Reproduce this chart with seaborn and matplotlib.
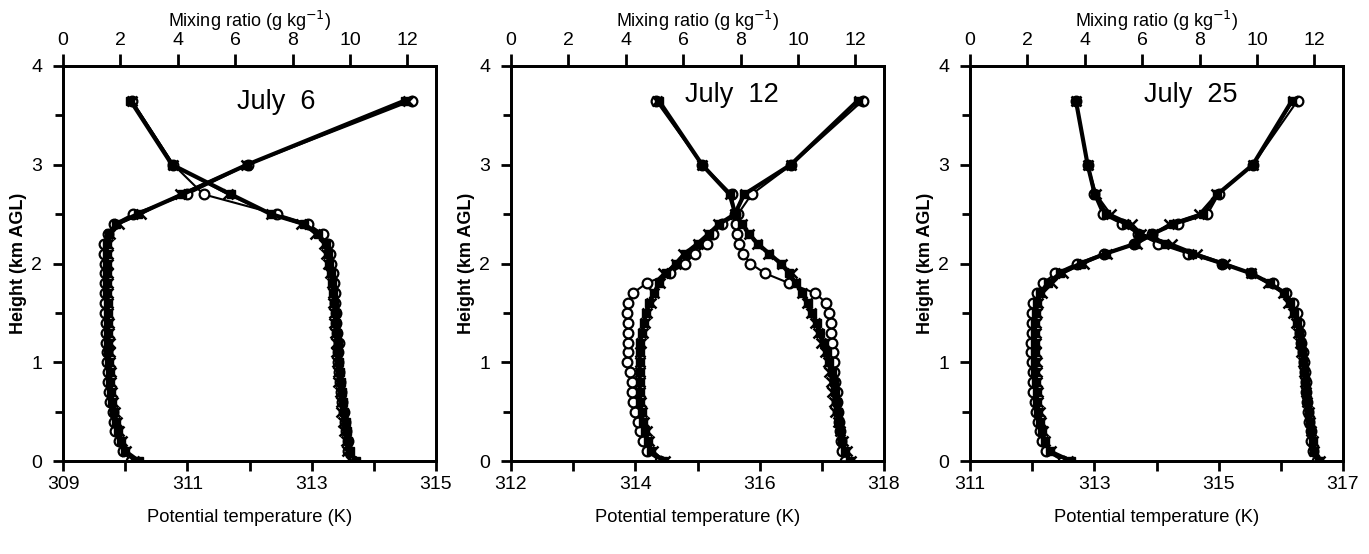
import matplotlib
matplotlib.use("Agg")
import matplotlib.pyplot as plt
import seaborn as sns

# ---------------- data ----------------
Z = [0.0, 0.1, 0.2, 0.3, 0.4, 0.5, 0.6, 0.7, 0.8, 0.9, 1.0, 1.1, 1.2, 1.3, 1.4,
     1.5, 1.6, 1.7, 1.8, 1.9, 2.0, 2.1, 2.2, 2.3, 2.4, 2.5, 2.7, 3.0, 3.65]

# July 6 potential temperature (K)
T6_sq = [310.22, 310.00, 309.93, 309.88, 309.85, 309.82, 309.79, 309.77, 309.76, 309.75,
         309.74, 309.73, 309.73, 309.73, 309.72, 309.72, 309.72, 309.71, 309.71, 309.71,
         309.70, 309.70, 309.70, 309.74, 309.86, 310.20, 310.92, 311.96, 314.50]
T6_x = [310.15, 310.02, 309.95, 309.90, 309.87, 309.84, 309.81, 309.79, 309.78, 309.77,
        309.76, 309.75, 309.75, 309.74, 309.74, 309.73, 309.73, 309.73, 309.73, 309.72,
        309.72, 309.72, 309.72, 309.76, 309.90, 310.26, 310.88, 311.95, 314.55]
T6_o = [310.10, 309.96, 309.90, 309.84, 309.82, 309.80, 309.76, 309.74, 309.73, 309.72,
        309.71, 309.70, 309.69, 309.69, 309.69, 309.68, 309.68, 309.68, 309.68, 309.67,
        309.67, 309.66, 309.66, 309.72, 309.82, 310.12, 311.00, 311.97, 314.62]
# July 6 mixing ratio (g/kg)
Q6_sq = [10.20, 10.00, 9.95, 9.90, 9.85, 9.80, 9.75, 9.72, 9.68, 9.65,
         9.62, 9.60, 9.58, 9.55, 9.53, 9.50, 9.45, 9.42, 9.38, 9.33,
         9.28, 9.22, 9.15, 8.90, 8.40, 7.25, 5.85, 3.80, 2.35]
Q6_x = [10.05, 9.90, 9.85, 9.80, 9.75, 9.70, 9.68, 9.65, 9.60, 9.58,
        9.55, 9.52, 9.50, 9.48, 9.46, 9.44, 9.42, 9.40, 9.38, 9.30,
        9.25, 9.18, 9.10, 8.80, 8.30, 7.25, 5.75, 3.85, 2.40]
Q6_o = [10.10, 9.95, 9.95, 9.87, 9.82, 9.80, 9.72, 9.68, 9.65, 9.62,
        9.60, 9.60, 9.62, 9.56, 9.52, 9.50, 9.48, 9.47, 9.45, 9.40,
        9.35, 9.30, 9.25, 9.05, 8.55, 7.45, 4.90, 3.85, 2.40]

# July 12
T12_sq = [314.45, 314.25, 314.20, 314.15, 314.12, 314.10, 314.08, 314.07, 314.07, 314.07,
          314.07, 314.07, 314.08, 314.10, 314.14, 314.17, 314.22, 314.30, 314.38, 314.50,
          314.65, 314.80, 315.00, 315.18, 315.35, 315.60, 315.75, 316.50, 317.58]
T12_x = [314.48, 314.28, 314.22, 314.18, 314.14, 314.10, 314.09, 314.08, 314.08, 314.07,
         314.07, 314.07, 314.09, 314.12, 314.15, 314.18, 314.26, 314.30, 314.40, 314.45,
         314.66, 314.77, 315.00, 315.17, 315.33, 315.60, 315.76, 316.50, 317.60]
T12_o = [314.40, 314.18, 314.13, 314.08, 314.05, 313.99, 313.96, 313.95, 313.94, 313.91,
         313.86, 313.88, 313.88, 313.88, 313.88, 313.86, 313.88, 313.96, 314.18, 314.56,
         314.80, 314.96, 315.15, 315.25, 315.40, 315.65, 315.87, 316.51, 317.66]
Q12_sq = [11.80, 11.65, 11.55, 11.48, 11.42, 11.38, 11.35, 11.30, 11.25, 11.18,
          11.10, 11.00, 10.90, 10.78, 10.65, 10.50, 10.35, 10.15, 9.92, 9.70,
          9.40, 9.00, 8.60, 8.30, 8.05, 7.82, 7.62, 6.66, 5.15]
Q12_x = [11.85, 11.70, 11.57, 11.45, 11.38, 11.30, 11.25, 11.20, 11.15, 11.10,
         11.04, 10.93, 10.82, 10.70, 10.60, 10.47, 10.30, 10.13, 9.90, 9.78,
         9.43, 8.97, 8.56, 8.28, 8.04, 7.80, 7.62, 6.66, 5.10]
Q12_o = [11.63, 11.55, 11.50, 11.45, 11.42, 11.40, 11.37, 11.36, 11.30, 11.27,
         11.25, 11.22, 11.20, 11.16, 11.16, 11.10, 10.99, 10.60, 9.70, 8.86,
         8.34, 8.10, 7.93, 7.87, 7.85, 7.80, 7.70, 6.66, 5.05]

# July 25
T25_sq = [312.62, 312.28, 312.20, 312.16, 312.13, 312.10, 312.08, 312.07, 312.06, 312.05,
          312.05, 312.04, 312.04, 312.04, 312.05, 312.06, 312.08, 312.13, 312.25, 312.45,
          312.78, 313.18, 313.66, 313.94, 314.27, 314.75, 314.98, 315.55, 316.18]
T25_x = [312.58, 312.30, 312.20, 312.18, 312.15, 312.12, 312.09, 312.09, 312.08, 312.07,
         312.07, 312.06, 312.06, 312.06, 312.06, 312.07, 312.10, 312.16, 312.32, 312.50,
         312.83, 313.20, 313.68, 313.95, 314.20, 314.68, 314.96, 315.55, 316.20]
T25_o = [312.50, 312.23, 312.16, 312.13, 312.10, 312.06, 312.04, 312.02, 312.02, 312.02,
         312.00, 311.98, 311.98, 311.99, 311.99, 311.99, 312.02, 312.08, 312.18, 312.37,
         312.72, 313.15, 313.64, 313.93, 314.34, 314.82, 315.00, 315.55, 316.27]
Q25_sq = [12.15, 12.00, 11.95, 11.90, 11.85, 11.80, 11.76, 11.72, 11.68, 11.65,
          11.62, 11.58, 11.52, 11.47, 11.40, 11.30, 11.15, 10.95, 10.45, 9.80,
          8.80, 7.75, 6.80, 5.90, 5.45, 4.75, 4.35, 4.10, 3.69]
Q25_x = [12.20, 12.00, 11.95, 11.90, 11.85, 11.80, 11.76, 11.72, 11.68, 11.64,
         11.60, 11.55, 11.50, 11.44, 11.36, 11.25, 11.07, 10.90, 10.37, 9.80,
         8.90, 7.90, 7.04, 5.95, 5.65, 4.90, 4.40, 4.10, 3.69]
Q25_o = [12.10, 11.95, 11.90, 11.88, 11.83, 11.78, 11.75, 11.71, 11.70, 11.66,
         11.65, 11.60, 11.53, 11.50, 11.48, 11.40, 11.25, 11.02, 10.55, 9.80,
         8.77, 7.60, 6.56, 5.87, 5.30, 4.62, 4.32, 4.10, 3.69]

DATES = ["July  6", "July  12", "July  25"]
T_LIMITS = [(309, 315), (312, 318), (311, 317)]
T_MAJOR = [[309, 311, 313, 315], [312, 314, 316, 318], [311, 313, 315, 317]]
T_MINOR = [[310, 312, 314], [313, 315, 317], [312, 314, 316]]
Q_TICKS = [0, 2, 4, 6, 8, 10, 12]
Z_TICKS = [0, 1, 2, 3, 4]
Z_MINOR = [0.5, 1.5, 2.5, 3.5]

PANELS = [
    (T6_sq, T6_x, T6_o, Q6_sq, Q6_x, Q6_o),
    (T12_sq, T12_x, T12_o, Q12_sq, Q12_x, Q12_o),
    (T25_sq, T25_x, T25_o, Q25_sq, Q25_x, Q25_o),
]

# ---------------- style ----------------
sns.set_theme(style="ticks")
plt.rcParams['font.family'] = ['Liberation Sans', 'DejaVu Sans']
plt.rcParams['axes.edgecolor'] = 'black'
plt.rcParams['axes.linewidth'] = 2.0
plt.rcParams['text.color'] = 'black'
plt.rcParams['axes.labelcolor'] = 'black'
plt.rcParams['xtick.color'] = 'black'
plt.rcParams['ytick.color'] = 'black'

fig = plt.figure(figsize=(13.69, 5.54), dpi=100)
lefts = [63 / 1369, 511 / 1369, 970 / 1369]
bottom = (554 - 461) / 554
height = (461 - 66) / 554
width = 373 / 1369

sq_kw = dict(marker='s', markersize=6, color='black', markerfacecolor='black',
             markeredgecolor='black', markeredgewidth=1.0, linewidth=3.0)
x_kw = dict(marker='x', markersize=7, color='black', markeredgecolor='black',
            markeredgewidth=1.8, linewidth=1.5)
o_kw = dict(marker='o', markersize=7, color='black', markerfacecolor='white',
            markeredgecolor='black', markeredgewidth=1.6, linewidth=1.5)


def draw(ax, xs, style):
    sns.lineplot(x=xs, y=Z, ax=ax, sort=False, estimator=None, legend=False, **style)


for i, (Tsq, Tx, To, Qsq, Qx, Qo) in enumerate(PANELS):
    ax = fig.add_axes([lefts[i], bottom, width, height])
    ax2 = ax.twiny()

    draw(ax, To, o_kw)
    draw(ax2, Qo, o_kw)
    draw(ax, Tx, x_kw)
    draw(ax2, Qx, x_kw)
    draw(ax, Tsq, sq_kw)
    draw(ax2, Qsq, sq_kw)

    ax.set_xlim(*T_LIMITS[i])
    ax.set_ylim(0, 4)
    ax2.set_xlim(0, 13.0)

    ax.set_xticks(T_MAJOR[i])
    ax.set_xticks(T_MINOR[i], minor=True)
    ax.set_yticks(Z_TICKS)
    ax.set_yticks(Z_MINOR, minor=True)
    ax.set_yticklabels([str(v) for v in Z_TICKS])
    ax2.set_xticks(Q_TICKS)
    ax2.set_xticklabels([str(v) for v in Q_TICKS])

    ax.tick_params(axis='x', which='both', direction='out', length=7, width=2,
                   labelsize=14, pad=4, colors='black')
    ax.tick_params(axis='y', which='major', direction='out', length=7, width=2,
                   labelsize=14, pad=8, right=False, colors='black')
    ax.tick_params(axis='y', which='minor', direction='out', length=6, width=2,
                   right=False, colors='black')
    ax2.tick_params(axis='x', which='major', direction='out', length=9, width=2,
                    labelsize=14, pad=3, colors='black')

    for a in (ax, ax2):
        for s in a.spines.values():
            s.set_linewidth(2.0)
            s.set_color('black')

    ax.set_xlabel("Potential temperature (K)", fontsize=13.2, labelpad=11, color='black')
    ax2.set_xlabel("Mixing ratio (g kg$^{-1}$)", fontsize=13, labelpad=4, color='black')
    ax.set_ylabel("Height (km AGL)", fontsize=13, fontweight='bold', labelpad=3,
                  color='black')

    ty = 0.91 if i == 0 else 0.927
    ax.text(0.467, ty, DATES[i], transform=ax.transAxes, fontsize=19.5,
            va='center', ha='left', color='black')

fig.savefig("out.png", dpi=100)
